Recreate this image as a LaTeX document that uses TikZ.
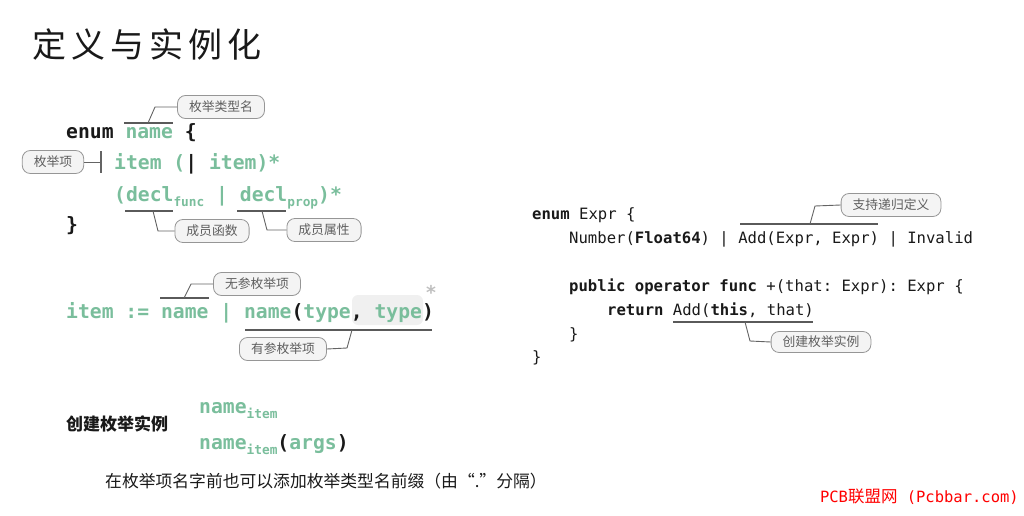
\documentclass[tikz,border=0pt]{standalone}
\usepackage{fontspec}
\setmonofont{DejaVu Sans Mono}
\newfontfamily\cjk{Noto Sans CJK SC}
\definecolor{grn}{RGB}{122,190,156}
\definecolor{ink}{RGB}{25,25,25}
\definecolor{lead}{RGB}{100,100,100}
\definecolor{tagfill}{RGB}{244,244,244}
\definecolor{tagdraw}{RGB}{150,150,150}
\definecolor{tagtext}{RGB}{95,95,95}
\definecolor{hl}{RGB}{240,240,240}
\newcommand{\lsub}[1]{\raisebox{-5pt}{\fontsize{12.8}{13}\selectfont #1}}
\begin{document}
\begin{tikzpicture}[x=1pt,y=-1pt,
  lcode/.style={anchor=base west,inner sep=0pt,text=ink,font=\ttfamily\bfseries\fontsize{19.7}{20}\selectfont},
  rcode/.style={anchor=base west,inner sep=0pt,text=ink,font=\ttfamily\fontsize{15.6}{16}\selectfont},
  tag/.style={draw=tagdraw,fill=tagfill,rounded corners=8pt,line width=0.8pt,
    font=\cjk\fontsize{12.8}{13}\selectfont,text=tagtext,minimum height=23pt,inner xsep=11.5pt,inner ysep=0pt},
  leader/.style={draw=lead,line width=0.9pt},
  ulmark/.style={draw=lead!90!black,line width=1.5pt},
]
\useasboundingbox (0,0) rectangle (1024,516);

% title
\node[anchor=west,inner sep=0pt,font=\cjk\fontsize{34}{34}\selectfont,text=ink] (title) at (32,45)
  {定\hspace{5pt}义\hspace{5pt}与\hspace{5pt}实\hspace{5pt}例\hspace{5pt}化};

% ---------- left definition ----------
\node[lcode] (l1) at (66,139) {enum \textcolor{grn}{name} \{};
\node[lcode] (l2) at (114,169) {\color{grn}item (\textcolor{ink}{|} item)*};
\node[lcode] (l3) at (114,201) {\color{grn}(decl\lsub{func} | decl\lsub{prop})*};
\node[lcode] (l4) at (66,231) {\}};

\node[tag] (b1) at (221,107) {枚举类型名};
\draw[ulmark] (124,123) -- (173,123);
\coordinate (c1) at (148,123);
\draw[leader] (c1) -- (155,107) -- (b1.west);

\node[tag] (b2) at (53,162) {枚举项};
\coordinate (t2) at (101,162);
\draw[leader] (b2.east) -- (t2);
\draw[lead,line width=1.3pt] (101,151) -- (101,173);

\node[tag] (b3) at (212,231) {成员函数};
\draw[ulmark] (125,211) -- (173,211);
\coordinate (c3) at (153,211);
\draw[leader] (c3) -- (158,231) -- (b3.west);

\node[tag] (b4) at (324,230) {成员属性};
\draw[ulmark] (237,211) -- (286,211);
\coordinate (c4) at (262,211);
\draw[leader] (c4) -- (267,230) -- (b4.west);

% ---------- item line ----------
\fill[hl,rounded corners=6pt] (352,295) rectangle (423,325);
\node[lcode] (it) at (66,318) {\color{grn}item := name | name\textcolor{ink}{(}type\textcolor{ink}{,} type\textcolor{ink}{)}};
\node[inner sep=0pt,text=gray!50,font=\ttfamily\bfseries\fontsize{19}{19}\selectfont] (ast) at (431,292) {*};

\node[tag] (b5) at (257,284) {无参枚举项};
\draw[ulmark] (160,298) -- (209,298);
\coordinate (c5) at (184,298);
\draw[leader] (c5) -- (191,284) -- (b5.west);

\node[tag] (b6) at (283,349) {有参枚举项};
\draw[ulmark] (245,330) -- (432,330);
\coordinate (c6) at (352,330);
\draw[leader] (c6) -- (347,348) -- (b6.east);

% ---------- create instance ----------
\node[anchor=west,inner sep=0pt,font=\cjk\bfseries\fontsize{17}{17}\selectfont,text=ink] (ci) at (66,424) {创建枚举实例};
\node[lcode] (n1) at (199,413) {\color{grn}name\lsub{item}};
\node[lcode] (n2) at (199,449) {\color{grn}name\lsub{item}\textcolor{ink}{(}args\textcolor{ink}{)}};
\node[anchor=west,inner sep=0pt,font=\cjk\fontsize{16.8}{17}\selectfont,text=ink] (note) at (105,481)
  {在枚举项名字前也可以添加枚举类型名前缀（由“.”分隔）};

% ---------- right example ----------
\node[rcode] (r1) at (532,219) {\textbf{enum} Expr \{};
\node[rcode] (r2) at (569,243) {Number(\textbf{Float64}) | Add(Expr, Expr) | Invalid};
\node[rcode] (r3) at (569,291) {\textbf{public operator func} +(that: Expr): Expr \{};
\node[rcode] (r4) at (607,315) {\textbf{return} Add(\textbf{this}, that)};
\node[rcode] (r5) at (569,339) {\}};
\node[rcode] (r6) at (532,362) {\}};

\node[tag] (b7) at (891,205) {支持递归定义};
\draw[ulmark] (740,224) -- (878,224);
\coordinate (c7) at (810,224);
\draw[leader] (c7) -- (815,206) -- (b7.west);

\node[tag,minimum height=21pt] (b8) at (821,342) {创建枚举实例};
\draw[ulmark] (673,322) -- (813,322);
\coordinate (c8) at (745,322);
\draw[leader] (c8) -- (750,341) -- (b8.west);

% watermark
\node[anchor=east,inner sep=0pt,text=red] (wm) at (1019,497)
  {\ttfamily\fontsize{15.5}{16}\selectfont PCB{\cjk\fontsize{16.5}{17}\selectfont 联盟网} (Pcbbar.com)};
\end{tikzpicture}
\end{document}
